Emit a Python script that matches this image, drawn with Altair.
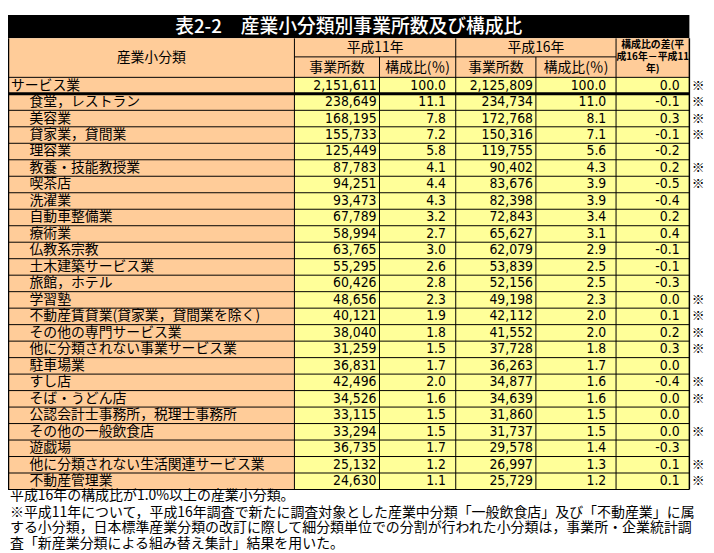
import altair as alt
import pandas as pd

# ---------------- data ----------------
title_text = "表2-2　産業小分類別事業所数及び構成比"
header_label = "産業小分類"
year_labels = ["平成11年", "平成16年"]
sub_labels = ["事業所数", "構成比(％)", "事業所数", "構成比(％)"]
diff_header = ["構成比の差(平", "成16年－平成11", "年)"]

categories = [
    "サービス業", "食堂，レストラン", "美容業", "貸家業，貸間業", "理容業",
    "教養・技能教授業", "喫茶店", "洗濯業", "自動車整備業", "療術業",
    "仏教系宗教", "土木建築サービス業", "旅館，ホテル", "学習塾",
    "不動産賃貸業(貸家業，貸間業を除く)", "その他の専門サービス業",
    "他に分類されない事業サービス業", "駐車場業", "すし店", "そば・うどん店",
    "公認会計士事務所，税理士事務所", "その他の一般飲食店", "遊戯場",
    "他に分類されない生活関連サービス業", "不動産管理業",
]
h11_counts = [2151611, 238649, 168195, 155733, 125449, 87783, 94251, 93473,
              67789, 58994, 63765, 55295, 60426, 48656, 40121, 38040, 31259,
              36831, 42496, 34526, 33115, 33294, 36735, 25132, 24630]
h11_ratio = [100.0, 11.1, 7.8, 7.2, 5.8, 4.1, 4.4, 4.3, 3.2, 2.7, 3.0, 2.6,
             2.8, 2.3, 1.9, 1.8, 1.5, 1.7, 2.0, 1.6, 1.5, 1.5, 1.7, 1.2, 1.1]
h16_counts = [2125809, 234734, 172768, 150316, 119755, 90402, 83676, 82398,
              72843, 65627, 62079, 53839, 52156, 49198, 42112, 41552, 37728,
              36263, 34877, 34639, 31860, 31737, 29578, 26997, 25729]
h16_ratio = [100.0, 11.0, 8.1, 7.1, 5.6, 4.3, 3.9, 3.9, 3.4, 3.1, 2.9, 2.5,
             2.5, 2.3, 2.0, 2.0, 1.8, 1.7, 1.6, 1.6, 1.5, 1.5, 1.4, 1.3, 1.2]
ratio_diff = [0.0, -0.1, 0.3, -0.1, -0.2, 0.2, -0.5, -0.4, 0.2, 0.4, -0.1,
              -0.1, -0.3, 0.0, 0.1, 0.2, 0.3, 0.0, -0.4, 0.0, 0.0, 0.0, -0.3,
              0.1, 0.1]
flagged = [True, True, True, True, False, True, True, False, False, False,
           False, False, False, True, True, True, True, False, True, True,
           False, True, False, True, True]
notes = [
    "平成16年の構成比が1.0%以上の産業小分類。",
    "※平成11年について，平成16年調査で新たに調査対象とした産業中分類「一般飲食店」及び「不動産業」に属",
    "する小分類，日本標準産業分類の改訂に際して細分類単位での分割が行われた小分類は，事業所・企業統計調",
    "査「新産業分類による組み替え集計」結果を用いた。",
]

# ---------------- layout (reference pixel space) ----------------
REF_W, REF_H = 714, 553
W, H = 706, 545
COL = [0, 293, 380, 458, 540, 622, 697]
TITLE_TOP, HEAD_TOP, HEAD_MID, ROW_TOP = 4, 28, 47, 68
ROW_H = 16.92
n = len(categories)
BOTTOM = ROW_TOP + ROW_H * n
ORANGE, YELLOW = "#FFCC99", "#FFFF99"
JP = "Noto Sans CJK JP"
NUM = "'Liberation Sans Narrow', 'DejaVu Sans Condensed', 'Noto Sans CJK JP', sans-serif"

xs = alt.Scale(domain=[0, REF_W], range=[0, W])
ys = alt.Scale(domain=[0, REF_H], range=[0, H])


def X(f):
    return alt.X(f"{f}:Q", scale=xs, axis=None)


def Y(f):
    return alt.Y(f"{f}:Q", scale=ys, axis=None)


rects = pd.DataFrame([
    dict(x=COL[0], x2=COL[-1], y=TITLE_TOP, y2=HEAD_TOP, fill="black"),
    dict(x=COL[0], x2=COL[-1], y=HEAD_TOP, y2=ROW_TOP, fill=ORANGE),
    dict(x=COL[0], x2=COL[1], y=ROW_TOP, y2=BOTTOM, fill=ORANGE),
    dict(x=COL[1], x2=COL[-1], y=ROW_TOP, y2=BOTTOM, fill=YELLOW),
])

rules = []
for k in range(n + 1):
    yk = ROW_TOP + ROW_H * k
    rules.append(dict(x=COL[0], x2=COL[-1], y=yk, y2=yk, w=3 if k == 1 else 1))
rules.append(dict(x=COL[1], x2=COL[5], y=HEAD_MID, y2=HEAD_MID, w=1))
for c in [COL[0] + 0.5, COL[-1]]:
    rules.append(dict(x=c, x2=c, y=HEAD_TOP, y2=BOTTOM, w=1.5))
for c in [COL[1], COL[3], COL[5]]:
    rules.append(dict(x=c, x2=c, y=HEAD_TOP, y2=BOTTOM, w=1))
for c in [COL[2], COL[4]]:
    rules.append(dict(x=c, x2=c, y=HEAD_MID, y2=BOTTOM, w=1))
rules = pd.DataFrame(rules)

row_y = [ROW_TOP + ROW_H * (i + 0.5) for i in range(n)]

labels = pd.DataFrame(dict(x=[3 if i == 0 else 22 for i in range(n)], y=row_y, t=categories))
num_right = pd.DataFrame(dict(
    x=[COL[2] - 3] * n + [COL[3] - 10] * n + [COL[4] - 3] * n + [COL[5] - 10] * n + [COL[6] - 10] * n,
    y=row_y * 5,
    t=[f"{v:,}" for v in h11_counts] + [f"{v:.1f}" for v in h11_ratio]
      + [f"{v:,}" for v in h16_counts] + [f"{v:.1f}" for v in h16_ratio]
      + [f"{v:.1f}" for v in ratio_diff],
))
marks = pd.DataFrame(dict(x=[706] * sum(flagged),
                          y=[row_y[i] for i in range(n) if flagged[i]],
                          t=["※"] * sum(flagged)))
head = pd.DataFrame(dict(
    x=[(COL[0] + COL[1]) / 2, (COL[1] + COL[3]) / 2, (COL[3] + COL[5]) / 2,
       (COL[1] + COL[2]) / 2, (COL[2] + COL[3]) / 2, (COL[3] + COL[4]) / 2, (COL[4] + COL[5]) / 2],
    y=[48, 37.5, 37.5, 58, 58, 58, 58],
    t=[header_label] + year_labels + sub_labels,
))
diff_head = pd.DataFrame(dict(x=[(COL[5] + COL[6]) / 2] * 3, y=[35, 47, 59.5], t=diff_header))
title = pd.DataFrame(dict(x=[(COL[0] + COL[-1]) / 2], y=[16.5], t=[title_text]))
foot = pd.DataFrame(dict(x=[2] * 4, y=[498, 515, 531, 547], t=notes))


def txt(df, align, size, font, color="black", weight="normal"):
    return alt.Chart(df).mark_text(
        align=align, baseline="middle", fontSize=size, font=font,
        color=color, fontWeight=weight,
    ).encode(x=X("x"), y=Y("y"), text="t:N")


layers = [
    alt.Chart(rects).mark_rect().encode(
        x=X("x"), x2="x2", y=Y("y"), y2="y2", fill=alt.Fill("fill:N", scale=None)),
    alt.Chart(rules).mark_rule(color="black").encode(
        x=X("x"), x2="x2", y=Y("y"), y2="y2", strokeWidth=alt.StrokeWidth("w:Q", scale=None)),
    txt(title, "center", 19, JP, color="white", weight=500),
    txt(head, "center", 14, JP),
    txt(diff_head, "center", 10, JP, weight="bold"),
    txt(labels, "left", 14, JP),
    txt(num_right, "right", 14, NUM),
    txt(marks, "center", 13, JP),
    txt(foot, "left", 14.1, JP),
]

chart = alt.layer(*layers).properties(
    width=W, height=H, padding=0,
    autosize=alt.AutoSizeParams(type="none"),
).configure_view(stroke=None)

chart.save("out.html", embed_options={"renderer": "svg", "actions": False})
